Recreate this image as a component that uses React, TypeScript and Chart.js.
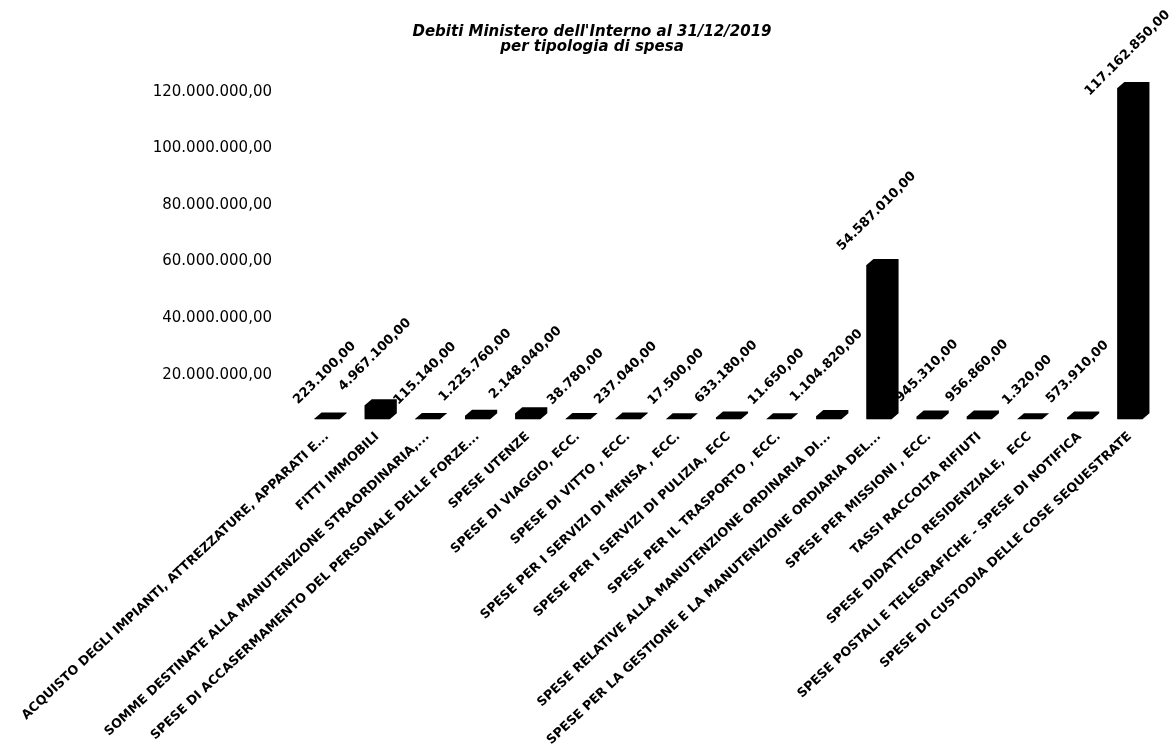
import React, { useEffect, useRef } from 'react';
import { Chart, registerables } from 'chart.js';

Chart.register(...registerables);

const titleLines = ["Debiti Ministero dell'Interno al 31/12/2019", 'per tipologia di spesa'];

const categories = [
  'ACQUISTO DEGLI IMPIANTI, ATTREZZATURE, APPARATI E...',
  'FITTI IMMOBILI',
  'SOMME DESTINATE ALLA MANUTENZIONE STRAORDINARIA,...',
  'SPESE DI ACCASERMAMENTO DEL PERSONALE DELLE FORZE...',
  'SPESE UTENZE',
  'SPESE DI VIAGGIO, ECC.',
  'SPESE DI VITTO , ECC.',
  'SPESE PER I SERVIZI DI MENSA , ECC.',
  'SPESE PER I SERVIZI DI PULIZIA, ECC',
  'SPESE PER IL TRASPORTO , ECC.',
  'SPESE RELATIVE ALLA MANUTENZIONE ORDINARIA DI...',
  'SPESE PER LA GESTIONE E LA MANUTENZIONE ORDIARIA DEL...',
  'SPESE PER MISSIONI , ECC.',
  'TASSI RACCOLTA RIFIUTI',
  'SPESE DIDATTICO RESIDENZIALE,  ECC',
  'SPESE POSTALI E TELEGRAFICHE - SPESE DI NOTIFICA',
  'SPESE DI CUSTODIA DELLE COSE SEQUESTRATE',
];

const values = [
  223100, 4967100, 115140, 1225760, 2148040, 38780, 237040, 17500, 633180,
  11650, 1104820, 54587010, 945310, 956860, 1320, 573910, 117162850,
];

const yMin = 0;
const yMax = 120000000;
const yStep = 20000000;

function fmt(v: number): string {
  const intPart = Math.round(v).toString().replace(/\B(?=(\d{3})+(?!\d))/g, '.');
  return intPart + ',00';
}

const FONT = '"DejaVu Sans", Verdana, sans-serif';

const bar3d = {
  id: 'bar3d',
  afterDatasetsDraw(chart: any) {
    const ctx = chart.ctx as CanvasRenderingContext2D;
    const meta = chart.getDatasetMeta(0);
    const dx = 7;
    const dy = 6;
    ctx.save();
    ctx.fillStyle = '#000';
    meta.data.forEach((el: any) => {
      const { x, y, base, width } = el.getProps(['x', 'y', 'base', 'width'], true);
      const l = x - width / 2;
      const r = x + width / 2;
      ctx.beginPath();
      ctx.moveTo(l, y);
      ctx.lineTo(l + dx, y - dy);
      ctx.lineTo(r + dx, y - dy);
      ctx.lineTo(r + dx, base - dy);
      ctx.lineTo(r, base);
      ctx.lineTo(l, base);
      ctx.closePath();
      ctx.fill();
    });
    const ang = (45 * Math.PI) / 180;
    ctx.font = 'bold 13px ' + FONT;
    ctx.textAlign = 'left';
    ctx.textBaseline = 'alphabetic';
    meta.data.forEach((el: any, i: number) => {
      const { x, y } = el.getProps(['x', 'y'], true);
      const text = fmt(values[i]);
      const w = ctx.measureText(text).width;
      const sx = x - (w * Math.cos(ang)) / 2;
      let sy = y - dy - 8;
      const topY = sy - w * Math.sin(ang) - 10 * Math.cos(ang);
      if (topY < 8) sy += 8 - topY;
      ctx.save();
      ctx.translate(sx, sy);
      ctx.rotate(-ang);
      ctx.fillText(text, 0, 0);
      ctx.restore();
    });
    ctx.restore();
  },
};

export default function App() {
  const ref = useRef<HTMLCanvasElement>(null);
  useEffect(() => {
    document.body.style.margin = '0';
    const canvas = ref.current!;
    const chart = new Chart(canvas, {
      type: 'bar',
      data: {
        labels: categories,
        datasets: [
          {
            data: values,
            backgroundColor: '#000',
            borderWidth: 0,
            barPercentage: 0.5,
            categoryPercentage: 1,
          },
        ],
      },
      options: {
        animation: false,
        responsive: false,
        devicePixelRatio: 1,
        layout: { padding: { left: 29, right: 18, top: 0, bottom: -5 } },
        plugins: {
          legend: { display: false },
          tooltip: { enabled: false },
          title: {
            display: true,
            text: titleLines,
            color: '#000',
            font: { family: FONT, size: 15, style: 'italic', weight: 'bold', lineHeight: 1.0 },
            padding: { top: 25, bottom: 25 },
          },
        },
        scales: {
          x: {
            grid: { display: false, drawTicks: false },
            border: { display: false },
            ticks: {
              autoSkip: false,
              minRotation: 43,
              maxRotation: 43,
              color: '#000',
              font: { family: FONT, size: 12.7, weight: 'bold' },
              padding: 10,
            },
          },
          y: {
            min: yMin,
            max: yMax,
            grid: { display: false, drawTicks: false },
            border: { display: false },
            afterFit: (scale: any) => {
              scale.width = 273;
            },
            ticks: {
              stepSize: yStep,
              color: '#000',
              font: { family: FONT, size: 15 },
              padding: 30,
              labelOffset: 12,
              callback: (v: any) => (Number(v) === 0 ? '' : fmt(Number(v))),
            },
          },
        },
      },
      plugins: [bar3d],
    });
    return () => chart.destroy();
  }, []);
  return <canvas ref={ref} width={1173} height={753} style={{ display: 'block' }} />;
}
